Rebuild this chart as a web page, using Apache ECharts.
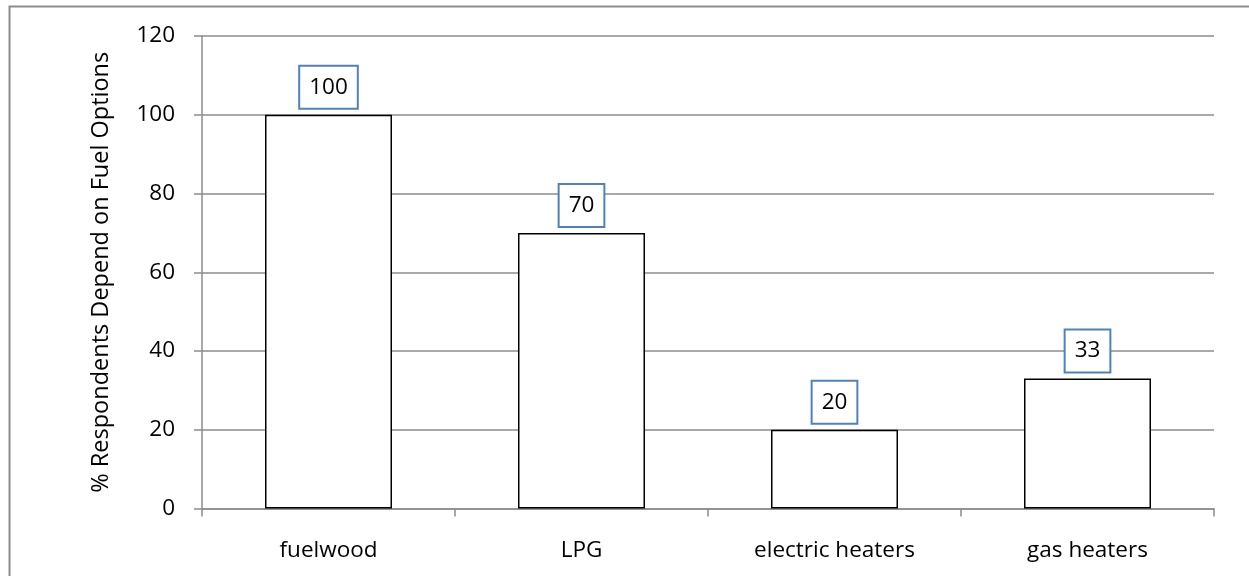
<!DOCTYPE html>
<html><head><meta charset="utf-8">
<script src="https://cdn.jsdelivr.net/npm/echarts@6/dist/echarts.min.js"></script>
<style>html,body{margin:0;padding:0;background:#fff}#c{width:1249px;height:576px}</style>
</head><body><div id="c"></div>
<script>
const categories = ['fuelwood', 'LPG', 'electric heaters', 'gas heaters'];
const values = [100, 70, 20, 33];
const yTicks = [0, 20, 40, 60, 80, 100, 120];
const yName = '% Respondents Depend on Fuel Options';

const FONT = 'Open Sans';
const FS = 22.5;
const chart = echarts.init(document.getElementById('c'), null, {renderer: 'canvas'});
chart.setOption({
  animation: false,
  backgroundColor: '#fff',
  graphic: [{
    type: 'rect', shape: {x: 9.5, y: 6.5, width: 1260, height: 600},
    style: {fill: 'none', stroke: '#8c8c8c', lineWidth: 2}, silent: true, z: -1
  }],
  grid: {left: 202, right: 35, top: 36, bottom: 67.5},
  xAxis: {
    type: 'category', data: categories,
    axisLine: {lineStyle: {color: '#8c8c8c', width: 1.5}},
    axisTick: {show: true, length: 8, alignWithLabel: false, lineStyle: {color: '#8c8c8c', width: 1.5}},
    axisLabel: {color: '#000', fontFamily: FONT, fontSize: FS, margin: 31}
  },
  yAxis: {
    type: 'value', min: yTicks[0], max: yTicks[yTicks.length - 1], interval: 20,
    name: yName, nameLocation: 'middle', nameGap: 89,
    nameTextStyle: {color: '#000', fontFamily: FONT, fontSize: 23.5},
    axisLine: {show: true, lineStyle: {color: '#8c8c8c', width: 1.5}},
    axisTick: {show: true, length: 8, inside: false, lineStyle: {color: '#8c8c8c', width: 1.5}},
    axisLabel: {color: '#000', fontFamily: FONT, fontSize: FS, margin: 27},
    splitLine: {lineStyle: {color: '#8c8c8c', width: 1.5}}
  },
  series: [{
    type: 'bar', data: values, barWidth: 127,
    itemStyle: {color: '#fff', borderColor: '#000', borderWidth: 1.5},
    label: {
      show: true, position: 'top', distance: 7,
      color: '#000', fontFamily: FONT, fontSize: FS,
      backgroundColor: '#fff', borderColor: '#4f81bd', borderWidth: 2,
      padding: [9, 9, 9, 9]
    }
  }]
});
</script></body></html>
